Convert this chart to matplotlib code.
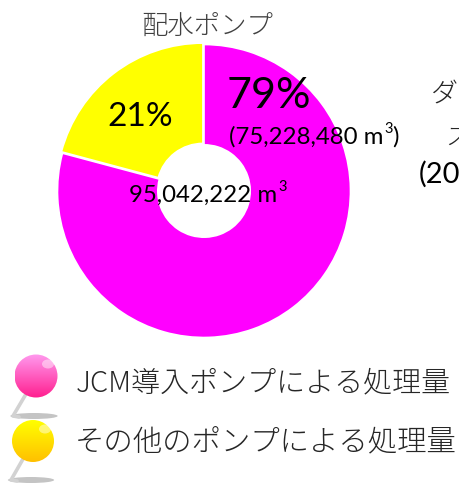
import numpy as np
import matplotlib
matplotlib.use("Agg")
import matplotlib.pyplot as plt
from matplotlib.colors import LinearSegmentedColormap
from matplotlib.patches import Circle, Ellipse

W, H = 459, 486
plt.rcParams["font.family"] = ["Lato", "Noto Sans CJK JP", "DejaVu Sans"]
JP = ["Noto Sans CJK JP", "DejaVu Sans"]

# chart data
slice_names = ["その他のポンプによる処理量", "JCM導入ポンプによる処理量"]
slice_values = [19813742, 75228480]
slice_colors = ["#ffff00", "#ff00ff"]
slice_pct = ["21%", "79%"]
jcm_label = "(75,228,480 m"
total_label = "95,042,222 m"
title = "配水ポンプ"

fig = plt.figure(figsize=(W / 100, H / 100), dpi=100)

# pie lives in its own axes, placed in pixels
cx, cy, r = 204, 191, 146.5
pad = 1.05
ax = fig.add_axes([(cx - r * pad) / W, 1 - (cy + r * pad) / H, 2 * r * pad / W, 2 * r * pad / H])
ax.pie(slice_values, colors=slice_colors, startangle=90, explode=[0.012, 0],
       wedgeprops={"width": 100 / 146, "edgecolor": "white", "linewidth": 1.2})
ax.set_xlim(-pad, pad)
ax.set_ylim(-pad, pad)
ax.axis("off")

# overlay in pixel coords for text and the pins
ov = fig.add_axes([0, 0, 1, 1])
ov.set_xlim(0, W)
ov.set_ylim(H, 0)
ov.axis("off")
ov.patch.set_alpha(0)


def m3_text(x, y, s, closing=""):
    # the m3 labels: main part, raised small 3, optional closing bracket
    t = ov.text(x, y, s, fontsize=17.3, ha="left", va="center", color="black")
    fig.canvas.draw()
    bb = t.get_window_extent()
    ov.text(bb.x1 + 1, y - 8, "3", fontsize=10.5, ha="left", va="center", color="black")
    if closing:
        ov.text(bb.x1 + 9, y, closing, fontsize=17.3, ha="left", va="center", color="black")


ov.text(207, 26, title, fontsize=19, family=JP, color="#404040", ha="center", va="center", fontweight="light")
ov.text(269, 96, slice_pct[1], fontsize=31, ha="center", va="center", color="black")
ov.text(140, 117, slice_pct[0], fontsize=24, ha="center", va="center", color="black")
m3_text(229, 137, jcm_label, ")")
m3_text(129, 195, total_label)

# clipped labels of the next chart
ov.text(431, 94, "ダ", fontsize=19.5, family=JP, ha="left", va="center", color="#262626", fontweight="light")
ov.text(445, 137, "ス", fontsize=18, family=JP, ha="left", va="center", color="#262626", fontweight="light")
ov.text(419, 174, "(20", fontsize=21, ha="left", va="center", color="black")

# legend text
ov.text(76, 383, slice_names[1], fontsize=20.9, family=JP, ha="left", va="center", color="#262626", fontweight="light")
ov.text(75, 442, slice_names[0], fontsize=21.2, family=JP, ha="left", va="center", color="#262626", fontweight="light")


def pin(x, y, rad, top, bottom, sx, sy, nx, ny):
    ov.add_patch(Ellipse((sx, sy), rad * 2.2, 6, color="#c4c4c4", lw=0))
    ov.plot([x - 10, nx, nx + 6], [y + 18, ny, ny + 1], color="#d2d2d2", lw=2.6, solid_capstyle="round")
    cmap = LinearSegmentedColormap.from_list("b", [top, bottom])
    grad = np.linspace(0, 1, 64).reshape(-1, 1)
    im = ov.imshow(grad, cmap=cmap, extent=[x - rad, x + rad, y + rad, y - rad], aspect="auto", zorder=3)
    im.set_clip_path(Circle((x, y), rad, transform=ov.transData))
    # small highlight
    ov.add_patch(Ellipse((x + 12, y - 12), 12, 9, color="white", alpha=0.45, lw=0, zorder=4))


pin(36, 376, 21.5, "#ff99ee", "#ff1f8f", 34, 416, 13, 416)
pin(33, 441, 21, "#ffff00", "#ffc000", 31, 480, 11, 480)
ov.set_xlim(0, W)
ov.set_ylim(H, 0)

fig.savefig("out.png", dpi=100)
